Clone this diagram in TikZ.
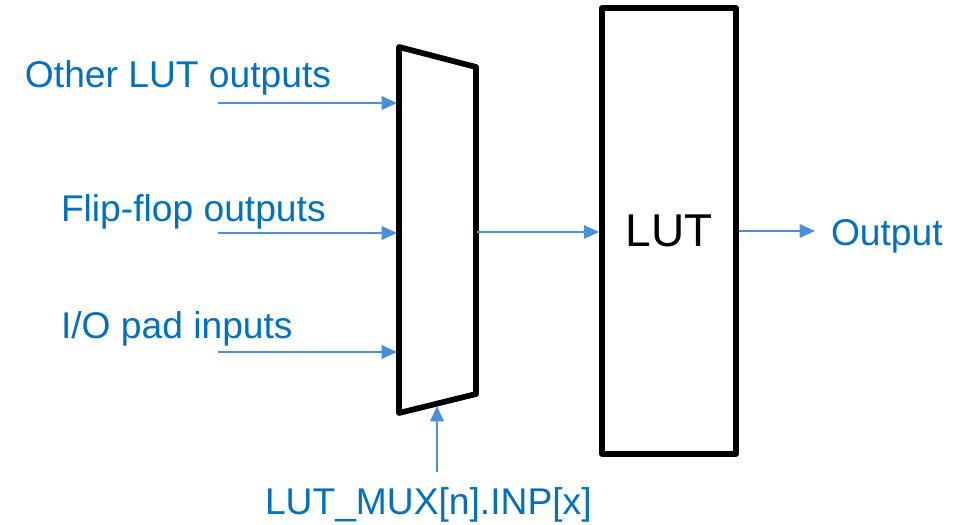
\documentclass[tikz,border=0pt]{standalone}
\usepackage{fontspec}
\setmainfont{Liberation Sans}
\usetikzlibrary{arrows.meta}
\definecolor{txtblue}{HTML}{0070C0}
\definecolor{arrblue}{HTML}{4A90D9}
\begin{document}
\begin{tikzpicture}[x=0.75pt,y=-0.75pt,
  lbl/.style={text=txtblue, font=\fontsize{27.9}{30}\selectfont, inner sep=0pt, outer sep=0pt, anchor=base west},
  conn/.style={draw=arrblue, line width=1.8pt, -{Triangle[length=11.5pt,width=10pt]}},
  blk/.style={draw=black, line width=4.3pt, line join=round}]
\useasboundingbox (0,0) rectangle (961,525);
% multiplexer
\coordinate (m1) at (399,47);
\coordinate (m2) at (476,67);
\coordinate (m3) at (476,394);
\coordinate (m4) at (399,413);
\draw[blk] (m1) -- (m2) -- (m3) -- (m4) -- cycle;
% LUT block
\node[blk, minimum width=100.5pt, minimum height=334pt, inner sep=0pt,
      font=\fontsize{34.5}{36}\selectfont] (lut) at (669,231) {LUT};
% labels
\node[lbl] (t1) at (25,87) {Other LUT outputs};
\node[lbl] (t2) at (61,221) {Flip-flop outputs};
\node[lbl] (t3) at (61,338) {I/O pad inputs};
\node[lbl] (t4) at (265,514) {LUT\_MUX[n].INP[x]};
\node[lbl] (t5) at (831,245) {Output};
% connector end points
\coordinate (s1) at (218,103);
\coordinate (e1) at (397,103);
\coordinate (s2) at (218,233);
\coordinate (e2) at (397,233);
\coordinate (s3) at (218,352);
\coordinate (e3) at (397,352);
\coordinate (mo) at (477,232);
\coordinate (oe) at (815,231);
\coordinate (ss) at (437,472);
\coordinate (se) at (437,406);
% connectors
\draw[conn] (s1) -- (e1);
\draw[conn] (s2) -- (e2);
\draw[conn] (s3) -- (e3);
\draw[conn] (mo) -- (mo -| lut.west);
\draw[conn] (lut.east |- oe) -- (oe);
\draw[conn] (ss) -- (se);
\end{tikzpicture}
\end{document}
